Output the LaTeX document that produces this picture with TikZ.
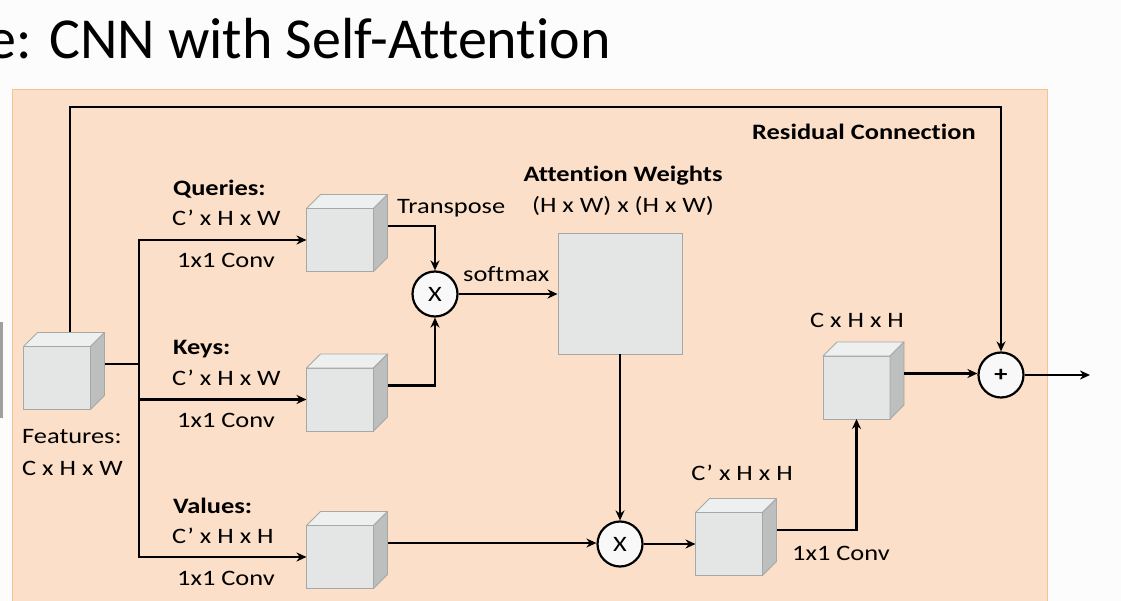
\documentclass[tikz,border=0pt]{standalone}
\usepackage{fontspec}
\setmainfont{Carlito}[FakeStretch=1.2,Ligatures=CommonOff]
\newfontfamily\titlefont{Carlito}[Ligatures=CommonOff]
\usetikzlibrary{arrows.meta,calc}
\definecolor{slide}{HTML}{FCFCFC}
\definecolor{panelfill}{HTML}{FBDFC8}
\definecolor{paneledge}{HTML}{F5C28F}
\definecolor{cubefront}{HTML}{E4E6E6}
\definecolor{cubetop}{HTML}{EEEFEF}
\definecolor{cubeside}{HTML}{BDBFBF}
\definecolor{cubeedge}{HTML}{A6A8A8}
\definecolor{opfill}{HTML}{F8F8F8}
\tikzset{
  txt/.style={font=\fontsize{22}{24}\selectfont},
  lbl/.style={txt,anchor=base west,inner sep=0pt},
  clbl/.style={txt,anchor=base,inner sep=0pt},
  cube/.style={draw=cubeedge,line width=.9pt,fill=cubefront,minimum width=67pt,minimum height=63pt,inner sep=0pt,outer sep=0pt},
  op/.style={circle,draw,line width=2.2pt,fill=opfill,minimum size=45pt,inner sep=0pt,txt},
  conn/.style={line width=2.2pt},
  arr/.style={conn,-{Stealth[length=10pt,width=9pt]}},
}
\newcommand\cubefaces[1]{%
  \draw[cubeedge,line width=.9pt,fill=cubetop,line join=round] (#1.north west) -- ++(14,-14) -- ($(#1.north east)+(14,-14)$) -- (#1.north east) -- cycle;
  \draw[cubeedge,line width=.9pt,fill=cubeside,line join=round] (#1.north east) -- ++(14,-14) -- ($(#1.south east)+(14,-14)$) -- (#1.south east) -- cycle;
  \coordinate (#1-out) at ($(#1.east)+(14,-14)$);}
\begin{document}
\begin{tikzpicture}[x=1pt,y=-1pt]
\fill[slide] (0,0) rectangle (1121,601);
\useasboundingbox (0,0) rectangle (1121,601);
\node[anchor=base west,inner sep=0pt,font=\titlefont\fontsize{58}{62}\selectfont] (title) at (-13,59) {e: CNN with Self-Attention};
\fill[gray!75] (0,322) rectangle (3,418);
\draw[paneledge,fill=panelfill,line width=1pt] (12,90) rectangle (1047,612);

% blocks
\node[cube] (feat) at (57,378) {};
\node[cube] (qry) at (340,240) {};
\node[cube] (key) at (340,399.5) {};
\node[cube] (val) at (340,557) {};
\node[cube] (mixed) at (729,544) {};
\node[cube] (proj) at (856.5,387.5) {};
\foreach \c in {feat,qry,key,val,mixed,proj} \cubefaces{\c};
\node[draw=cubeedge,fill=cubefront,line width=.9pt,minimum width=124pt,minimum height=121pt] (attn) at (620,293.5) {};
\node[op] (mulA) at (435,294) {X};
\node[op] (mulB) at (620,544) {X};
\node[op] (add) at (1001,375) {\textbf{+}};

% connectors
\coordinate (skipA) at ($(feat.north)+(13,-14)$);
\coordinate (skipB) at (70,107);
\coordinate (split) at (139,364);
\coordinate (result) at (1090,375);
\draw[arr] (skipA) -- (skipB) -| (add.north);
\draw[conn] (feat-out) -- (split);
\draw[arr] (split) |- (qry.west);
\draw[arr] (split) |- (key.west);
\draw[arr] (split) |- (val.west);
\draw[arr] (qry-out) -| (mulA.north);
\draw[arr] (key-out) -| (mulA.south);
\draw[arr] (mulA) -- (attn.west |- mulA);
\draw[arr] (attn.south) -- (mulB.north);
\draw[arr] (val-out) -- (val-out -| mulB.west);
\draw[arr] (mulB) -- (mixed.west);
\draw[arr] (mixed-out) -| (proj.south);
\draw[arr] (proj-out) -- (proj-out -| add.west);
\draw[arr] (add) -- (result);

% labels
\foreach \nm/\hd/\dm/\yb in {qry/Queries/W/196,key/Keys/W/355,val/Values/H/513} {
  \node[lbl,font=\fontsize{22}{24}\selectfont\bfseries] (\nm-head) at (173,\yb) {\hd:};
  \node[lbl] (\nm-dim) at (172,\yb+30) {C’ x H x \dm};
  \node[lbl] (\nm-conv) at (177,\yb+72) {1x1 Conv};
}
\node[lbl] (feat-name) at (22,443) {Features:};
\node[lbl] (feat-dim) at (22,475) {C x H x W};
\node[lbl] (trans) at (397,214) {Transpose};
\node[lbl] (soft) at (463,282) {softmax};
\node[clbl,font=\fontsize{22}{24}\selectfont\bfseries] (attn-head) at (623,182) {Attention Weights};
\node[clbl] (attn-dim) at (623,213) {(H x W) x (H x W)};
\node[clbl] (mixed-dim) at (742,480) {C’ x H x H};
\node[lbl] (mixed-conv) at (792,560) {1x1 Conv};
\node[clbl] (proj-dim) at (857,328) {C x H x H};
\node[lbl,font=\fontsize{22}{24}\selectfont\bfseries] (skip-lbl) at (752,140) {Residual Connection};
\end{tikzpicture}
\end{document}
